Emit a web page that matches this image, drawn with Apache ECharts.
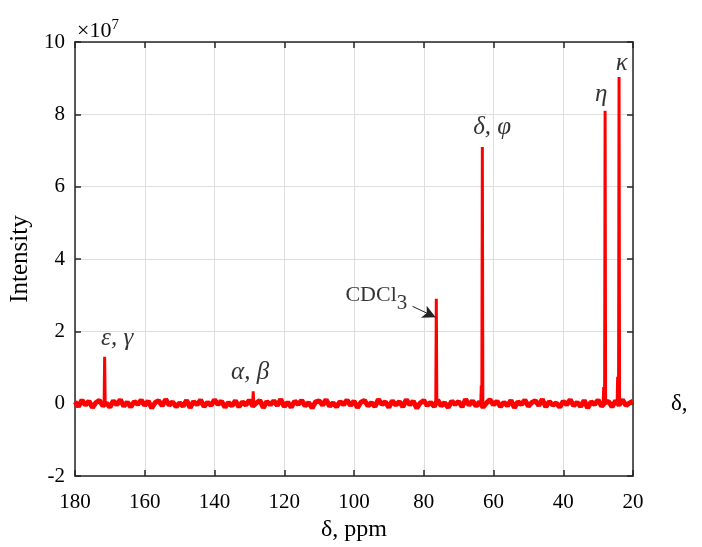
<!DOCTYPE html>
<html><head><meta charset="utf-8">
<script src="https://cdn.jsdelivr.net/npm/echarts@6/dist/echarts.min.js"></script>
<style>html,body{margin:0;padding:0;background:#fff}#c{width:702px;height:547px}</style>
</head><body><div id="c"></div><script>
// x ticks (ppm) and y ticks (x 1e7)
const xTicks = [180,160,140,120,100,80,60,40,20];
const yTicks = [-2,0,2,4,6,8,10];
// baseline noise, one value per ppm from 180 down to 20 (units of 1e7)
const baselineStart = 180;
const baselineNoise = [
0.05,-0.08,0.1,-0.04,0.07,-0.11,0.03,0.09,-0.06,0.02,
-0.1,0.08,-0.03,0.11,-0.07,0.04,-0.09,0.06,-0.02,0.1,
-0.05,0.07,-0.12,0.03,0.08,-0.06,0.12,-0.04,0.05,-0.09,
0.02,-0.07,0.09,-0.11,0.06,-0.03,0.1,-0.08,0.04,-0.05,
0.11,-0.02,0.07,-0.1,0.03,-0.06,0.08,-0.09,0.05,-0.04,
0.1,-0.07,0.02,0.09,-0.11,0.06,-0.03,0.08,-0.05,0.12,
-0.08,0.04,-0.1,0.07,-0.02,0.09,-0.06,0.03,-0.12,0.05,
0.08,-0.04,0.11,-0.07,0.02,-0.09,0.06,-0.03,0.1,-0.05,
0.07,-0.11,0.04,0.09,-0.06,0.03,-0.08,0.12,-0.02,0.05,
-0.1,0.08,-0.04,0.06,-0.09,0.11,-0.03,0.07,-0.12,0.02,
0.09,-0.05,0.04,-0.08,0.1,-0.06,0.03,-0.11,0.07,-0.02,
0.06,-0.09,0.12,-0.04,0.08,-0.07,0.05,-0.1,0.02,0.11,
-0.03,0.07,-0.08,0.04,-0.06,0.09,-0.11,0.05,-0.02,0.1,
-0.07,0.03,0.08,-0.05,0.12,-0.09,0.06,-0.04,0.02,-0.1,
0.07,-0.03,0.11,-0.06,0.04,-0.08,0.09,-0.12,0.05,-0.02,
0.1,-0.07,0.03,0.06,-0.09,0.08,-0.04,0.11,-0.05,0.02,
0.07];
// peaks
const peakPpm    = [171.5, 128.9, 76.4, 63.5, 63.2, 28.4, 28.0, 24.4, 24.0];
const peakHeight = [1.30,  0.34,  2.90, 0.50, 7.10, 0.46, 8.10, 0.74, 9.03];
// annotations
const labelText = ['{g|ε, γ}', '{g|α, β}', '{n|CDCl}{s|3}', '{g|δ, φ}', '{g|η}', '{g|κ}'];
const labelPpm  = [167.9, 129.8, 93.6, 60.4, 29.1, 23.2];
const labelVal  = [1.80, 0.87, 3.00, 7.63, 8.54, 9.42];
const arrowFrom = [83.2, 2.69];
const arrowTo   = [76.6, 2.39];

const basePts = baselineNoise.map((v,i)=>[baselineStart - i, v]);
const peakPts = [];
peakPpm.forEach((p,i)=>{
  peakPts.push([p+0.15,0]); peakPts.push([p,peakHeight[i]]); peakPts.push([p-0.15,0]); peakPts.push([p-0.2,'-']);
});

const serif = 'Liberation Serif';
const axisCol = '#262626';
const txtCol = '#000000';
const baseX = {type:'value', min:20, max:180, interval:20, inverse:true,
  axisLine:{show:true, onZero:false, lineStyle:{color:axisCol, width:1.5}},
  axisTick:{show:true, inside:true, length:6, lineStyle:{color:axisCol, width:1.5}},
};
const baseY = {type:'value', min:-2, max:10, interval:2,
  axisLine:{show:true, onZero:false, lineStyle:{color:axisCol, width:1.5}},
  axisTick:{show:true, inside:true, length:6, lineStyle:{color:axisCol, width:1.5}},
};
const chart = echarts.init(document.getElementById('c'), null, {renderer:'canvas'});
chart.setOption({
  animation:false,
  backgroundColor:'#fff',
  grid:{left:75, right:69, top:42, bottom:70, containLabel:false},
  xAxis:[
    Object.assign({}, baseX, {position:'bottom', name:'δ, ppm', nameLocation:'middle', nameGap:42,
      nameTextStyle:{fontFamily:serif, fontSize:24, color:txtCol},
      axisLabel:{show:true, margin:16, fontFamily:serif, fontSize:21, color:txtCol,
        formatter:v=>xTicks.includes(v)?String(v):''},
      splitLine:{show:true, lineStyle:{color:'#dedede', width:1}}}),
    Object.assign({}, baseX, {position:'top', axisLabel:{show:false}, splitLine:{show:false}})
  ],
  yAxis:[
    Object.assign({}, baseY, {position:'left', name:'Intensity', nameLocation:'middle', nameGap:41,
      nameTextStyle:{fontFamily:serif, fontSize:25, color:txtCol},
      axisLabel:{show:true, margin:10, fontFamily:serif, fontSize:21, color:txtCol,
        formatter:v=>yTicks.includes(v)?String(v):''},
      splitLine:{show:true, lineStyle:{color:'#dedede', width:1}}}),
    Object.assign({}, baseY, {position:'right', axisLabel:{show:false}, splitLine:{show:false}})
  ],
  series:[
    {type:'line', name:'baseline', data:basePts, showSymbol:false, symbol:'none',
     lineStyle:{color:'#ff0000', width:5}, z:3},
    {type:'line', name:'peaks', data:peakPts, showSymbol:false, symbol:'none', connectNulls:false,
     lineStyle:{color:'#ff0000', width:3}, z:3,
     markLine:{silent:true, symbol:['none','arrow'], symbolSize:[10,13],
       lineStyle:{color:'#222', width:1, type:'solid'}, label:{show:false},
       data:[[{coord:arrowFrom},{coord:arrowTo}]]}},
    {type:'scatter', name:'labels', symbolSize:1, itemStyle:{color:'rgba(0,0,0,0)'}, z:5,
     data:labelPpm.map((p,i)=>({value:[p,labelVal[i]], text:labelText[i]})),
     label:{show:true, position:'inside', formatter:p=>p.data.text, color:txtCol,
       rich:{
         g:{fontFamily:serif, fontStyle:'italic', fontSize:25, color:txtCol},
         n:{fontFamily:serif, fontSize:22, color:txtCol},
         s:{fontFamily:serif, fontSize:21, color:txtCol, padding:[16,0,0,0]}
       }}}
  ],
  graphic:[
    {type:'text', left:77, top:18, style:{text:'×10{p|7}', fontFamily:serif, fontSize:22, fill:txtCol,
      rich:{p:{fontFamily:serif, fontSize:15, fill:txtCol, padding:[0,0,12,0]}}}},
    {type:'text', left:671, top:392, style:{text:'δ,', fontFamily:serif, fontSize:23, fill:txtCol}}
  ]
});
</script></body></html>
